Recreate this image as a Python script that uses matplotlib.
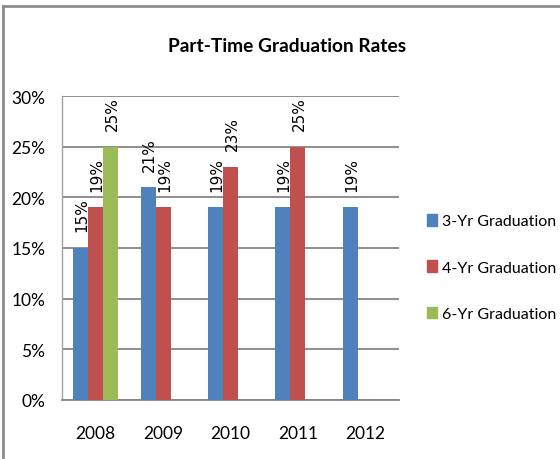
import matplotlib
matplotlib.use("Agg")
import matplotlib.pyplot as plt
import numpy as np
from matplotlib.lines import Line2D

years = ["2008", "2009", "2010", "2011", "2012"]
series_names = ["3-Yr Graduation", "4-Yr Graduation", "6-Yr Graduation"]
grad_3yr = [15, 21, 19, 19, 19]
grad_4yr = [19, 19, 23, 25, None]
grad_6yr = [25, None, None, None, None]
colors = ["#4F81BD", "#C0504D", "#9BBB59"]
yticks = [0, 5, 10, 15, 20, 25, 30]
title = "Part-Time Graduation Rates"

narrow = ["Lato", "DejaVu Sans"]

W, H = 560, 460
fig = plt.figure(figsize=(W / 100, H / 100), dpi=100)
ax = fig.add_axes([62 / W, (H - 401) / H, (399 - 62) / W, (401 - 97) / H])

x = np.arange(len(years))
width = 1 / 4.5
offsets = [-width, 0, width]
all_series = [grad_3yr, grad_4yr, grad_6yr]
handles = []
for vals, col, off in zip(all_series, colors, offsets):
    for i, v in enumerate(vals):
        if v is None:
            continue
        ax.bar(x[i] + off, v, width=width, color=col, zorder=3)
        ax.annotate(f"{v}%", (x[i] + off, v), xytext=(1, 12), textcoords="offset points",
                    rotation=90, ha="center", va="bottom", fontsize=11,
                    family="DejaVu Sans", color="#000000")
    handles.append(plt.Rectangle((0, 0), 1, 1, color=col))

ax.set_xlim(-0.5, len(years) - 0.5)
ax.set_ylim(0, 30)
ax.set_yticks(yticks)
ax.set_yticklabels([f"{t}%" for t in yticks], family=narrow, fontsize=12.5)
ax.set_xticks(x)
ax.set_xticklabels(years, family=narrow, fontsize=12.5)
ax.tick_params(axis="both", length=0)
ax.tick_params(axis="x", pad=18)
ax.tick_params(axis="y", pad=12)
ax.yaxis.grid(True, color="#868686", linewidth=1.3, zorder=0)
for sp in ["top", "right"]:
    ax.spines[sp].set_visible(False)
ax.spines["left"].set_color("#A0A0A0")
ax.spines["left"].set_linewidth(1.0)
ax.spines["bottom"].set_color("#868686")
ax.spines["bottom"].set_linewidth(1.3)

fig.text(287 / W, 1 - 47 / H, title, ha="center", va="center", fontsize=13.8,
         fontweight="bold", family=narrow)

fig.legend(handles, series_names, loc="upper left", bbox_to_anchor=(427 / W, 1 - 215 / H),
           frameon=False, prop={"family": narrow, "size": 11.5}, handlelength=0.65,
           handleheight=0.75, handletextpad=0.3, labelspacing=2.0, borderaxespad=0,
           borderpad=0)

# chart area border (left and top edges)
fig.add_artist(Line2D([3 / W, 3 / W], [0, 1 - 7 / H], color="#8C8C8C", linewidth=2,
                      transform=fig.transFigure))
fig.add_artist(Line2D([3 / W, 1], [1 - 7 / H, 1 - 7 / H], color="#8C8C8C", linewidth=2,
                      transform=fig.transFigure))

fig.savefig("out.png", dpi=100)
